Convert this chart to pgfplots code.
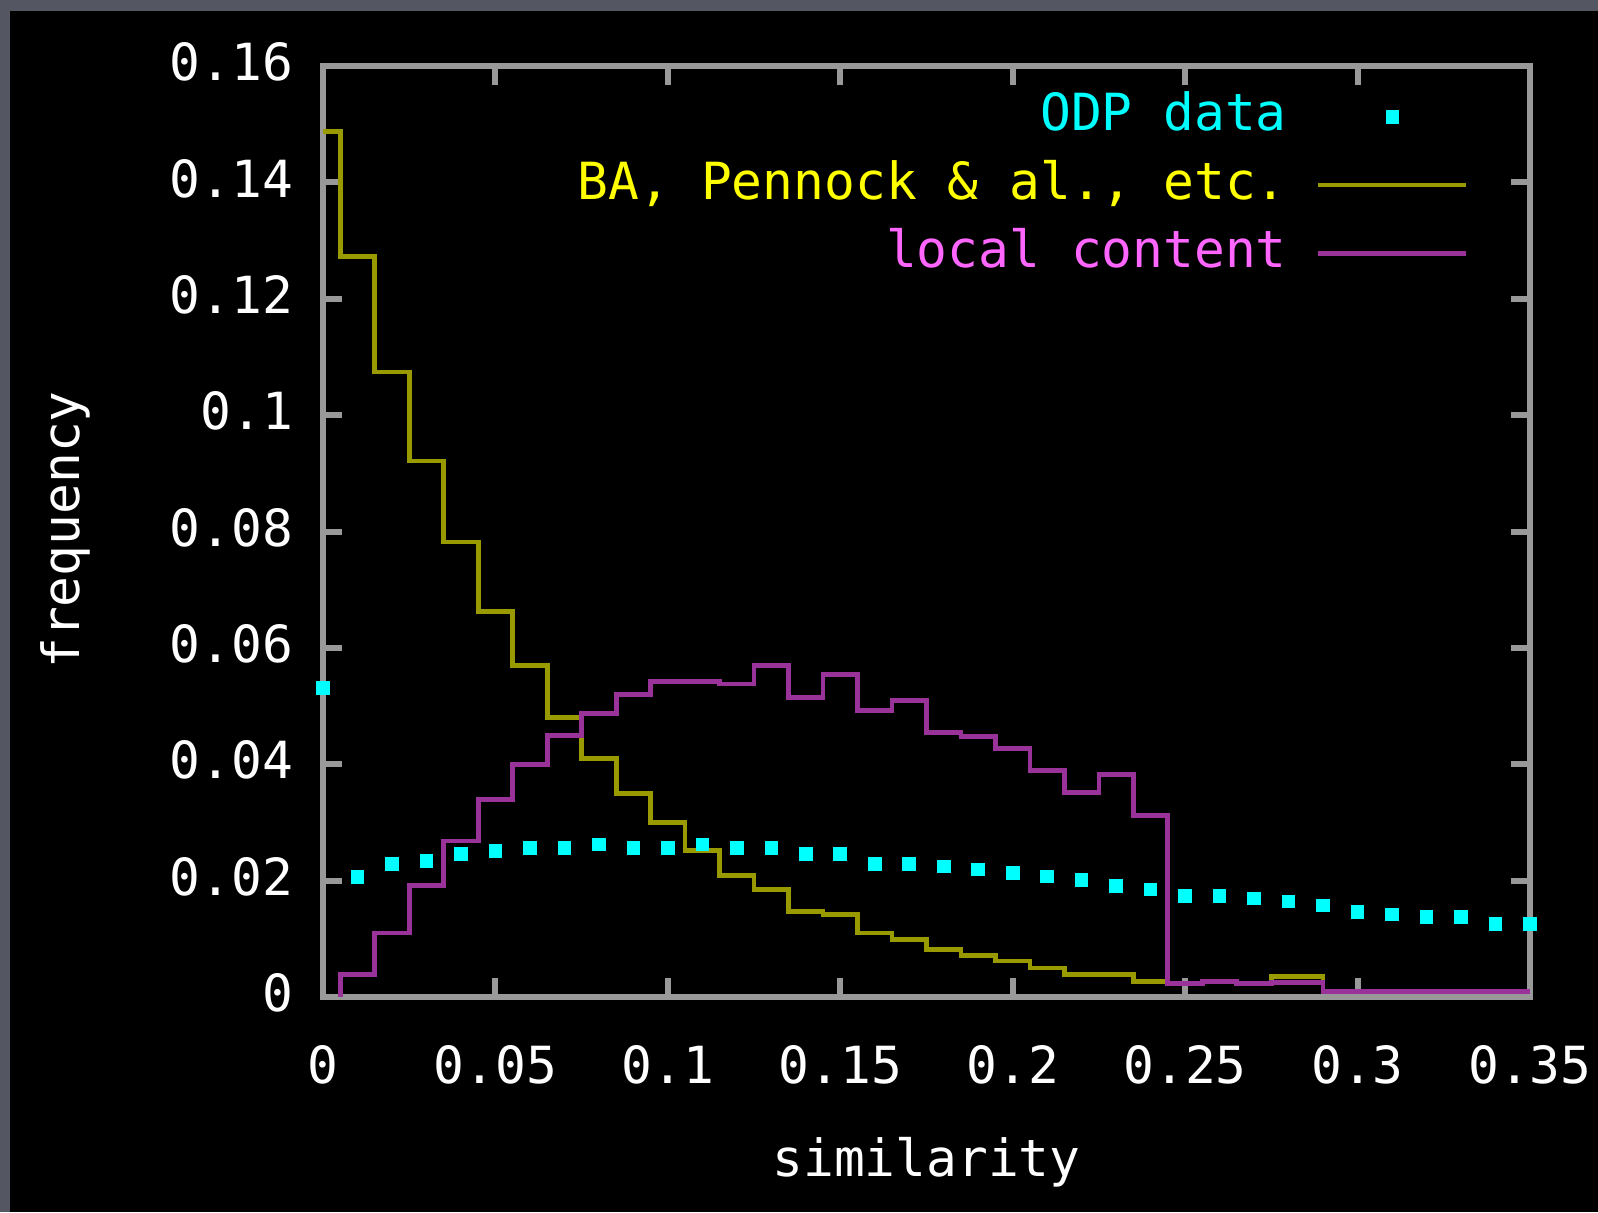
\documentclass[border=0pt]{standalone}
\usepackage{fontspec}
\setmainfont{DejaVu Sans Mono}
\usepackage{pgfplots}
\pgfplotsset{compat=1.18}
\definecolor{axgray}{RGB}{153,153,153}
\definecolor{odp}{RGB}{0,255,255}
\definecolor{baline}{RGB}{153,153,0}
\definecolor{batext}{RGB}{255,255,0}
\definecolor{lcline}{RGB}{153,51,153}
\definecolor{lctext}{RGB}{255,102,255}
\definecolor{framegray}{RGB}{84,87,98}
\begin{document}
\begin{tikzpicture}
\fill[black] (0,0) rectangle (399.5pt,303pt);
\fill[framegray] (0,0) rectangle (2.5pt,303pt);
\fill[framegray] (0,300.25pt) rectangle (399.5pt,303pt);
\begin{axis}[
  at={(80.75pt,53.75pt)}, anchor=south west,
  scale only axis, width=301.75pt, height=232.75pt,
  xmin=0, xmax=0.35, ymin=0, ymax=0.16,
  clip=false,
  axis line style={draw=axgray, line width=1.5pt},
  tick style={draw=axgray, line width=1.5pt},
  major tick length=4.75pt,
  tick align=inside,
  xtick={0,0.05,0.1,0.15,0.2,0.25,0.3,0.35},
  xticklabels={0,0.05,0.1,0.15,0.2,0.25,0.3,0.35},
  ytick={0,0.02,0.04,0.06,0.08,0.1,0.12,0.14,0.16},
  yticklabels={0,0.02,0.04,0.06,0.08,0.1,0.12,0.14,0.16},
  scaled ticks=false,
  /pgf/number format/assume math mode=true,
  ticklabel style={font=\fontsize{12.8pt}{15pt}\selectfont, text=white},
  yticklabel style={anchor=east, inner sep=0pt, xshift=-7.3pt, yshift=1pt},
  xticklabel style={anchor=north, inner sep=0pt, yshift=-11.9pt},
  xlabel={similarity}, ylabel={frequency},
  label style={font=\fontsize{12.8pt}{15pt}\selectfont, text=white},
  xlabel style={at={(axis description cs:0.5,-0.177)}, anchor=center},
  ylabel style={at={(axis description cs:-0.2135,0.5016)}, anchor=center},
  legend style={at={(axis cs:0.3325,0.1556)}, anchor=north east, draw=none, fill=none,
    inner sep=0pt, column sep=7.3pt, row sep=4.85pt,
    font=\fontsize{12.8pt}{15pt}\selectfont,
    nodes={inner sep=0pt, text height=9.6pt, text depth=2.6pt}},
  legend cell align=right, legend plot pos=right,
  legend image code/.code={\draw[mark repeat=2,mark phase=2] plot coordinates {(0pt,0pt) (18.5pt,0pt) (37pt,0pt)};},
]
\addplot[only marks, mark=square*, mark size=1.5pt, color=odp, mark options={draw=none, fill=odp}] coordinates {
(0,0.0531) (0.01,0.0206) (0.02,0.0229) (0.03,0.0234) (0.04,0.0246) (0.05,0.0251) (0.06,0.0256) (0.07,0.0256) (0.08,0.0262) (0.09,0.0256) (0.10,0.0256) (0.11,0.0262) (0.12,0.0256) (0.13,0.0256) (0.14,0.0246) (0.15,0.0246) (0.16,0.0229) (0.17,0.0229) (0.18,0.0224) (0.19,0.0219) (0.20,0.0213) (0.21,0.0207) (0.22,0.0201) (0.23,0.0191) (0.24,0.0185) (0.25,0.0174) (0.26,0.0174) (0.27,0.0169) (0.28,0.0164) (0.29,0.0157) (0.30,0.0146) (0.31,0.0142) (0.32,0.0137) (0.33,0.0137) (0.34,0.0125) (0.35,0.0125)
};
\addlegendentry[text=odp]{ODP data}
\addplot[const plot, color=baline, line width=1.2pt] coordinates {
(0,0.1488) (0.005,0.1272) (0.015,0.1074) (0.025,0.0921) (0.035,0.0782) (0.045,0.0662) (0.055,0.0570) (0.065,0.0481) (0.075,0.0410) (0.085,0.0350) (0.095,0.0300) (0.105,0.0252) (0.115,0.0209) (0.125,0.0185) (0.135,0.0147) (0.145,0.0142) (0.155,0.0110) (0.165,0.0099) (0.175,0.0082) (0.185,0.0072) (0.195,0.0062) (0.205,0.0050) (0.215,0.0039) (0.225,0.0039) (0.235,0.0027) (0.245,0.0023) (0.255,0.0027) (0.265,0.0023) (0.275,0.0035) (0.29,0.0010) (0.35,0.0010)
};
\addlegendentry[text=batext]{BA, Pennock \& al., etc.}
\addplot[const plot, color=lcline, line width=1.2pt] coordinates {
(0.005,0) (0.005,0.0039) (0.015,0.0110) (0.025,0.0191) (0.035,0.0268) (0.045,0.0339) (0.055,0.0400) (0.065,0.0450) (0.075,0.0487) (0.085,0.0520) (0.095,0.0542) (0.105,0.0542) (0.115,0.0538) (0.125,0.0570) (0.135,0.0515) (0.145,0.0554) (0.155,0.0493) (0.165,0.0510) (0.175,0.0455) (0.185,0.0448) (0.195,0.0427) (0.205,0.0389) (0.215,0.0351) (0.225,0.0383) (0.235,0.0312) (0.245,0.0023) (0.255,0.0027) (0.265,0.0023) (0.275,0.0025) (0.29,0.0010) (0.35,0.0010)
};
\addlegendentry[text=lctext]{local content}
\end{axis}
\pgfresetboundingbox
\path[use as bounding box] (0,0) rectangle (399.5pt,303pt);
\end{tikzpicture}
\end{document}
